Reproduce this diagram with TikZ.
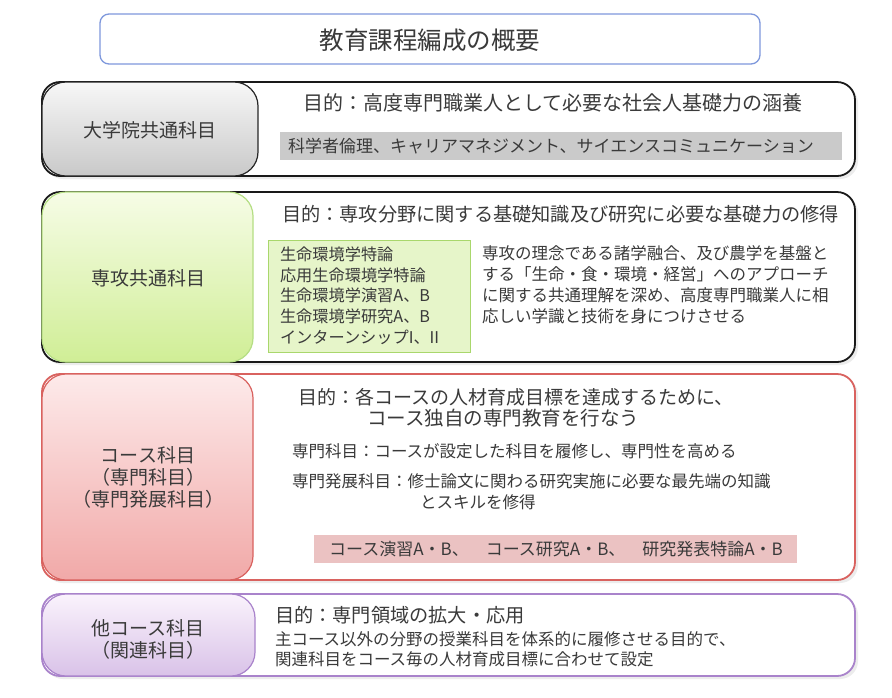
\documentclass[tikz,border=0pt]{standalone}
\usepackage{fontspec}
\newfontfamily\jp{Noto Sans CJK JP}
\definecolor{txt}{HTML}{3A3A3A}
\definecolor{titleblue}{HTML}{7E98DC}
\definecolor{redb}{HTML}{D9625F}
\definecolor{purb}{HTML}{A983CB}
\definecolor{greyL1}{HTML}{F7F7F7}
\definecolor{greyL2}{HTML}{C9C9C9}
\definecolor{greenL1}{HTML}{F6FCE6}
\definecolor{greenL2}{HTML}{D0EE96}
\definecolor{greenB}{HTML}{B5DE84}
\definecolor{greenF}{HTML}{E6F5C9}
\definecolor{greenFB}{HTML}{A9D76C}
\definecolor{pinkL1}{HTML}{FDEAEA}
\definecolor{pinkL2}{HTML}{F1A9A8}
\definecolor{pinkbar}{HTML}{EBC2C2}
\definecolor{purL1}{HTML}{FAF3FC}
\definecolor{purL2}{HTML}{D9C2E8}
\definecolor{greybar}{HTML}{CACACA}
\begin{document}
\begin{tikzpicture}[x=1pt,y=-1pt,
  every node/.style={inner sep=0pt, outer sep=0pt, text=txt},
  jpfont/.style={font=\jp\fontsize{#1}{#1}\selectfont},
  outerbox/.style={draw=#1, line width=1.8pt, fill=white, rounded corners=18pt, anchor=north west},
  leftbox/.style={draw=#1, line width=1.2pt, rounded corners=24pt, anchor=north west},
  shadowbox/.style={fill=black!14, rounded corners=18pt, anchor=north west, opacity=0.5},
  lbl/.style={jpfont=19, align=center},
  txtw/.style={anchor=west, align=left}
]
\useasboundingbox (0,0) rectangle (892,697);
\fill[white] (0,0) rectangle (892,697);

% title
\node[draw=titleblue, line width=1.3pt, fill=white, rounded corners=9pt,
      minimum width=660pt, minimum height=50pt, anchor=north west] (title) at (100,14) {};
\node[jpfont=24.5] (titletxt) at (430,40) {教育課程編成の概要};

% ---------- box 1 ----------
\node[shadowbox, minimum width=813pt, minimum height=94pt] (s1) at (45,85) {};
\node[outerbox=black!90, minimum width=813pt, minimum height=94pt] (b1) at (42,82) {};
\node[leftbox=black!85, top color=greyL1, bottom color=greyL2,
      minimum width=216pt, minimum height=94pt] (l1) at (42,82) {};
\node[lbl] (l1t) at (150,130) {大学院共通科目};
\node[jpfont=20, txtw] (p1) at (303,103) {目的：高度専門職業人として必要な社会人基礎力の涵養};
\node[fill=greybar, minimum width=562pt, minimum height=28pt, anchor=north west] (g1) at (280,132) {};
\node[jpfont=17, txtw] (g1t) at (288,146) {科学者倫理、キャリアマネジメント、サイエンスコミュニケーション};

% ---------- box 2 ----------
\node[shadowbox, minimum width=813pt, minimum height=170pt] (s2) at (45,195) {};
\node[outerbox=black!90, minimum width=813pt, minimum height=170pt] (b2) at (42,192) {};
\node[leftbox=greenB, top color=greenL1, bottom color=greenL2,
      minimum width=211pt, minimum height=170pt] (l2) at (42,192) {};
\node[lbl] (l2t) at (148,278) {専攻共通科目};
\node[jpfont=19.2, txtw] (p2) at (282,214) {目的：専攻分野に関する基礎知識及び研究に必要な基礎力の修得};
\node[draw=greenFB, line width=0.9pt, fill=greenF, minimum width=202pt, minimum height=112pt, anchor=north west] (g2) at (268,240) {};
\node[font=\jp\fontsize{16.2}{20.6}\selectfont, anchor=north west, align=left] (g2t) at (280,247)
  {生命環境学特論\\応用生命環境学特論\\生命環境学演習A、B\\生命環境学研究A、B\\インターンシップI、II};
\node[font=\jp\fontsize{16.5}{20.8}\selectfont, anchor=north west, align=left] (d2) at (482,246)
  {専攻の理念である諸学融合、及び農学を基盤と\\する「生命・食・環境・経営」へのアプローチ\\に関する共通理解を深め、高度専門職業人に相\\応しい学識と技術を身につけさせる};

% ---------- box 3 ----------
\node[shadowbox, minimum width=813pt, minimum height=206pt] (s3) at (45,377) {};
\node[outerbox=redb, minimum width=813pt, minimum height=206pt] (b3) at (42,374) {};
\node[leftbox=redb, top color=pinkL1, bottom color=pinkL2,
      minimum width=211pt, minimum height=206pt] (l3) at (42,374) {};
\node[font=\jp\fontsize{19}{22}\selectfont, align=center] (l3t) at (148,477) {コース科目\\（専門科目）\\（専門発展科目）};
\node[jpfont=19, txtw] (p3a) at (298,397) {目的：各コースの人材育成目標を達成するために、};
\node[jpfont=19.5, txtw] (p3b) at (367,418) {コース独自の専門教育を行なう};
\node[jpfont=16.5, txtw] (p3c) at (292,451) {専門科目：コースが設定した科目を履修し、専門性を高める};
\node[jpfont=16.5, txtw] (p3d) at (292,481) {専門発展科目：修士論文に関わる研究実施に必要な最先端の知識};
\node[jpfont=16.5, txtw] (p3e) at (420,502) {とスキルを修得};
\node[fill=pinkbar, minimum width=483pt, minimum height=28pt, anchor=north west] (g3) at (314,535) {};
\node[jpfont=17] (g3t) at (556,549) {コース演習A・B、\quad コース研究A・B、\quad 研究発表特論A・B};

% ---------- box 4 ----------
\node[shadowbox, minimum width=813pt, minimum height=82pt] (s4) at (45,597) {};
\node[outerbox=purb, minimum width=813pt, minimum height=82pt] (b4) at (42,594) {};
\node[leftbox=purb, top color=purL1, bottom color=purL2,
      minimum width=213pt, minimum height=82pt] (l4) at (42,594) {};
\node[font=\jp\fontsize{19}{22}\selectfont, align=center] (l4t) at (148,639) {他コース科目\\（関連科目）};
\node[jpfont=19.2, txtw] (p4) at (275,615) {目的：専門領域の拡大・応用};
\node[font=\jp\fontsize{16.5}{20}\selectfont, anchor=north west, align=left] (d4) at (275,632)
  {主コース以外の分野の授業科目を体系的に履修させる目的で、\\関連科目をコース毎の人材育成目標に合わせて設定};
\end{tikzpicture}
\end{document}
